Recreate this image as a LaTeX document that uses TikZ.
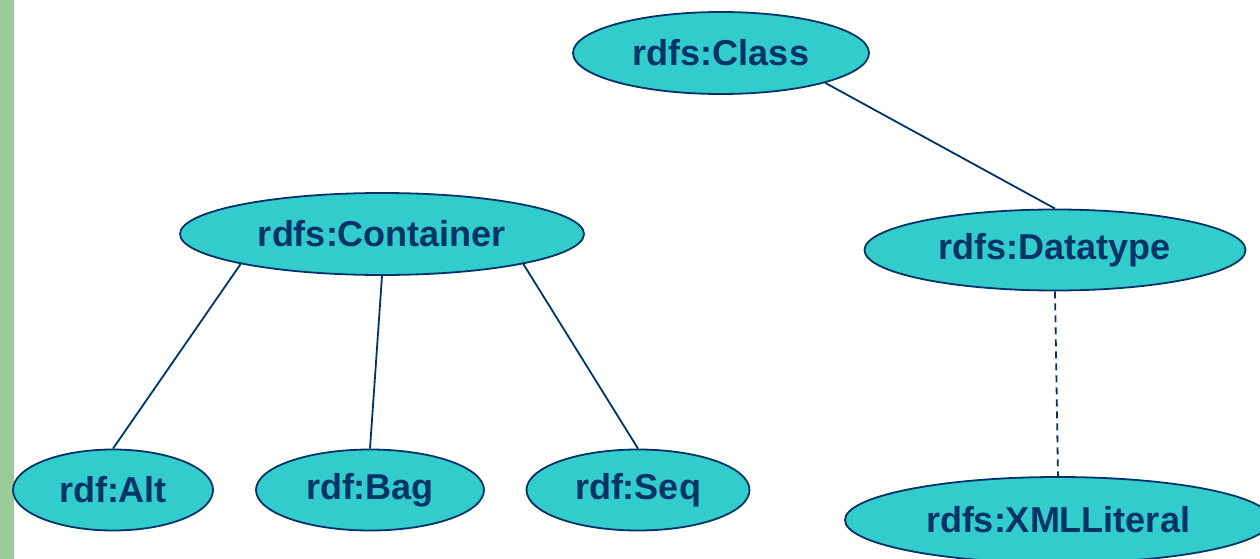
\documentclass[tikz,border=0pt]{standalone}
\usepackage{fontspec}
\setmainfont{Liberation Sans}
\usetikzlibrary{shapes.geometric}
\definecolor{cls}{HTML}{33CCCC}
\definecolor{ink}{HTML}{003366}
\definecolor{bar}{HTML}{99CC99}
\begin{document}
\begin{tikzpicture}[x=1pt,y=-1pt,
  cnode/.style={ellipse, draw=ink, line width=1.8pt, fill=cls, inner sep=0pt,
    text=ink, font=\fontsize{36}{40}\selectfont\bfseries},
  link/.style={draw=ink, line width=1.8pt},
  dlink/.style={link, dash pattern=on 7pt off 5pt}]
  \useasboundingbox (0,0) rectangle (1260,559);
  \clip (0,0) rectangle (1260,559);
  % side bar
  \fill[bar] (0,0) rectangle (14,559);
  % class nodes
  \node[cnode, minimum width=296pt, minimum height=82pt] (class) at (721,53) {rdfs:Class};
  \node[cnode, minimum width=404pt, minimum height=82pt] (cont)  at (382,234) {rdfs:Container};
  \node[cnode, minimum width=381pt, minimum height=81pt] (dtype) at (1055,250) {rdfs:Datatype};
  \node[cnode, minimum width=200pt, minimum height=81pt] (alt)   at (113,490) {rdf:Alt};
  \node[cnode, minimum width=228pt, minimum height=81pt] (bag)   at (370,490) {rdf:Bag};
  \node[cnode, minimum width=223pt, minimum height=81pt] (seq)   at (638,490) {rdf:Seq};
  \node[cnode, minimum width=426pt, minimum height=86pt] (xml)   at (1058,520) {rdfs:XMLLiteral};
  % subclass links
  \draw[link] (class.344) -- (dtype.north);
  \draw[link] (cont.192) -- (alt.north);
  \draw[link] (cont.south) -- (bag.north);
  \draw[link] (cont.348) -- (seq.north);
  \draw[dlink] (dtype.south) -- (xml.north);
\end{tikzpicture}
\end{document}
